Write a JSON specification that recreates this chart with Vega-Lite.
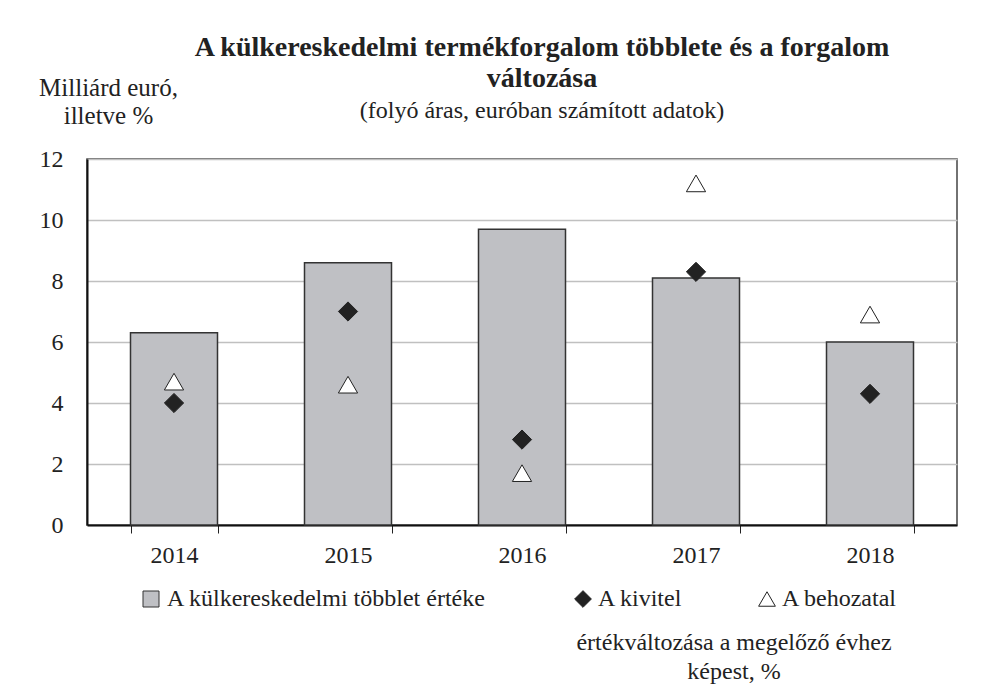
{
  "$schema": "https://vega.github.io/schema/vega-lite/v6.json",
  "width": 870,
  "height": 366,
  "autosize": {"type": "none"},
  "padding": {"left": 87, "top": 159, "right": 25, "bottom": 165},
  "background": "white",
  "config": {
    "font": "Liberation Serif",
    "view": {"stroke": "#444", "strokeWidth": 1.5},
    "axis": {
      "labelFont": "Liberation Serif",
      "labelFontSize": 24,
      "labelColor": "#222",
      "titleFont": "Liberation Serif",
      "titleFontWeight": "normal",
      "titleFontSize": 25,
      "titleColor": "#222"
    },
    "legend": {
      "labelFont": "Liberation Serif",
      "labelFontSize": 24,
      "labelColor": "#222",
      "titleFont": "Liberation Serif",
      "titleColor": "#222"
    }
  },
  "title": {
    "text": ["A külkereskedelmi termékforgalom többlete és a forgalom", "változása"],
    "subtitle": "(folyó áras, euróban számított adatok)",
    "font": "Liberation Serif",
    "fontSize": 28,
    "fontWeight": "bold",
    "color": "#222",
    "lineHeight": 31,
    "subtitleFont": "Liberation Serif",
    "subtitleFontSize": 24,
    "subtitleColor": "#222",
    "subtitlePadding": 6,
    "anchor": "middle",
    "frame": "group",
    "dx": 20,
    "offset": -48
  },
  "datasets": {
    "bars": [
      {"ev": "2014", "sorozat": "A külkereskedelmi többlet értéke", "ertek": 6.3},
      {"ev": "2015", "sorozat": "A külkereskedelmi többlet értéke", "ertek": 8.6},
      {"ev": "2016", "sorozat": "A külkereskedelmi többlet értéke", "ertek": 9.7},
      {"ev": "2017", "sorozat": "A külkereskedelmi többlet értéke", "ertek": 8.1},
      {"ev": "2018", "sorozat": "A külkereskedelmi többlet értéke", "ertek": 6.0}
    ],
    "points": [
      {"ev": "2014", "sorozat": "A kivitel", "ertek": 4.0},
      {"ev": "2015", "sorozat": "A kivitel", "ertek": 7.0},
      {"ev": "2016", "sorozat": "A kivitel", "ertek": 2.8},
      {"ev": "2017", "sorozat": "A kivitel", "ertek": 8.3},
      {"ev": "2018", "sorozat": "A kivitel", "ertek": 4.3},
      {"ev": "2014", "sorozat": "A behozatal", "ertek": 4.7},
      {"ev": "2015", "sorozat": "A behozatal", "ertek": 4.6},
      {"ev": "2016", "sorozat": "A behozatal", "ertek": 1.7},
      {"ev": "2017", "sorozat": "A behozatal", "ertek": 11.2},
      {"ev": "2018", "sorozat": "A behozatal", "ertek": 6.9}
    ]
  },
  "encoding": {
    "x": {
      "field": "ev",
      "type": "ordinal",
      "scale": {"paddingInner": 0.5, "paddingOuter": 0.25},
      "axis": {
        "title": null,
        "labelAngle": 0,
        "tickBand": "extent",
        "tickSize": 8,
        "tickColor": "#222",
        "tickWidth": 1,
        "domainColor": "#111",
        "domainWidth": 2,
        "labelPadding": 10,
        "grid": false
      }
    },
    "y": {
      "field": "ertek",
      "type": "quantitative",
      "scale": {"domain": [0, 12], "nice": false},
      "axis": {
        "values": [0, 2, 4, 6, 8, 10, 12],
        "tickSize": 0,
        "labelPadding": 24,
        "gridColor": "#c0c0c0",
        "gridWidth": 1.5,
        "domainColor": "#111",
        "domainWidth": 2,
        "title": ["Milliárd euró,", "illetve %"],
        "titleAngle": 0,
        "titleAlign": "center",
        "titleBaseline": "alphabetic",
        "titleX": 21,
        "titleY": -64,
        "titleLineHeight": 28
      }
    }
  },
  "layer": [
    {
      "data": {"name": "bars"},
      "mark": {"type": "bar", "stroke": "#333", "strokeWidth": 1.5},
      "encoding": {
        "color": {
          "field": "sorozat",
          "type": "nominal",
          "scale": {"range": ["#bfc0c4"]},
          "legend": {
            "title": null,
            "orient": "none",
            "legendX": 52,
            "legendY": 428,
            "symbolType": "square",
            "symbolSize": 256,
            "symbolStrokeColor": "#333",
            "symbolStrokeWidth": 1,
            "labelOffset": 4,
            "labelLimit": 500
          }
        }
      }
    },
    {
      "data": {"name": "points"},
      "mark": {"type": "point", "filled": true, "opacity": 1, "strokeWidth": 1, "size": 370},
      "encoding": {
        "shape": {
          "field": "sorozat",
          "type": "nominal",
          "scale": {"domain": ["A kivitel", "A behozatal"], "range": ["diamond", "triangle-up"]},
          "legend": {
            "title": ["értékváltozása a megelőző évhez", "képest, %"],
            "titleOrient": "bottom",
            "titleAnchor": "middle",
            "titleAlign": "center",
            "titleFontSize": 24,
            "titleFontWeight": "normal",
            "titleLineHeight": 29,
            "titlePadding": 20,
            "titleLimit": 600,
            "orient": "none",
            "legendX": 484,
            "legendY": 428,
            "direction": "horizontal",
            "columnPadding": 72,
            "symbolSize": 280,
            "symbolStrokeWidth": 1,
            "labelOffset": 3,
            "labelLimit": 300
          }
        },
        "fill": {
          "field": "sorozat",
          "type": "nominal",
          "scale": {"domain": ["A kivitel", "A behozatal"], "range": ["#222222", "#ffffff"]},
          "legend": {
            "title": ["értékváltozása a megelőző évhez", "képest, %"],
            "titleOrient": "bottom",
            "titleAnchor": "middle",
            "titleAlign": "center",
            "titleFontSize": 24,
            "titleFontWeight": "normal",
            "titleLineHeight": 29,
            "titlePadding": 20,
            "titleLimit": 600,
            "orient": "none",
            "legendX": 484,
            "legendY": 428,
            "direction": "horizontal",
            "columnPadding": 72,
            "symbolSize": 280,
            "symbolStrokeWidth": 1,
            "labelOffset": 3,
            "labelLimit": 300
          }
        },
        "stroke": {
          "field": "sorozat",
          "type": "nominal",
          "scale": {"domain": ["A kivitel", "A behozatal"], "range": ["#222222", "#222222"]},
          "legend": {
            "title": ["értékváltozása a megelőző évhez", "képest, %"],
            "titleOrient": "bottom",
            "titleAnchor": "middle",
            "titleAlign": "center",
            "titleFontSize": 24,
            "titleFontWeight": "normal",
            "titleLineHeight": 29,
            "titlePadding": 20,
            "titleLimit": 600,
            "orient": "none",
            "legendX": 484,
            "legendY": 428,
            "direction": "horizontal",
            "columnPadding": 72,
            "symbolSize": 280,
            "symbolStrokeWidth": 1,
            "labelOffset": 3,
            "labelLimit": 300
          }
        }
      }
    }
  ]
}
